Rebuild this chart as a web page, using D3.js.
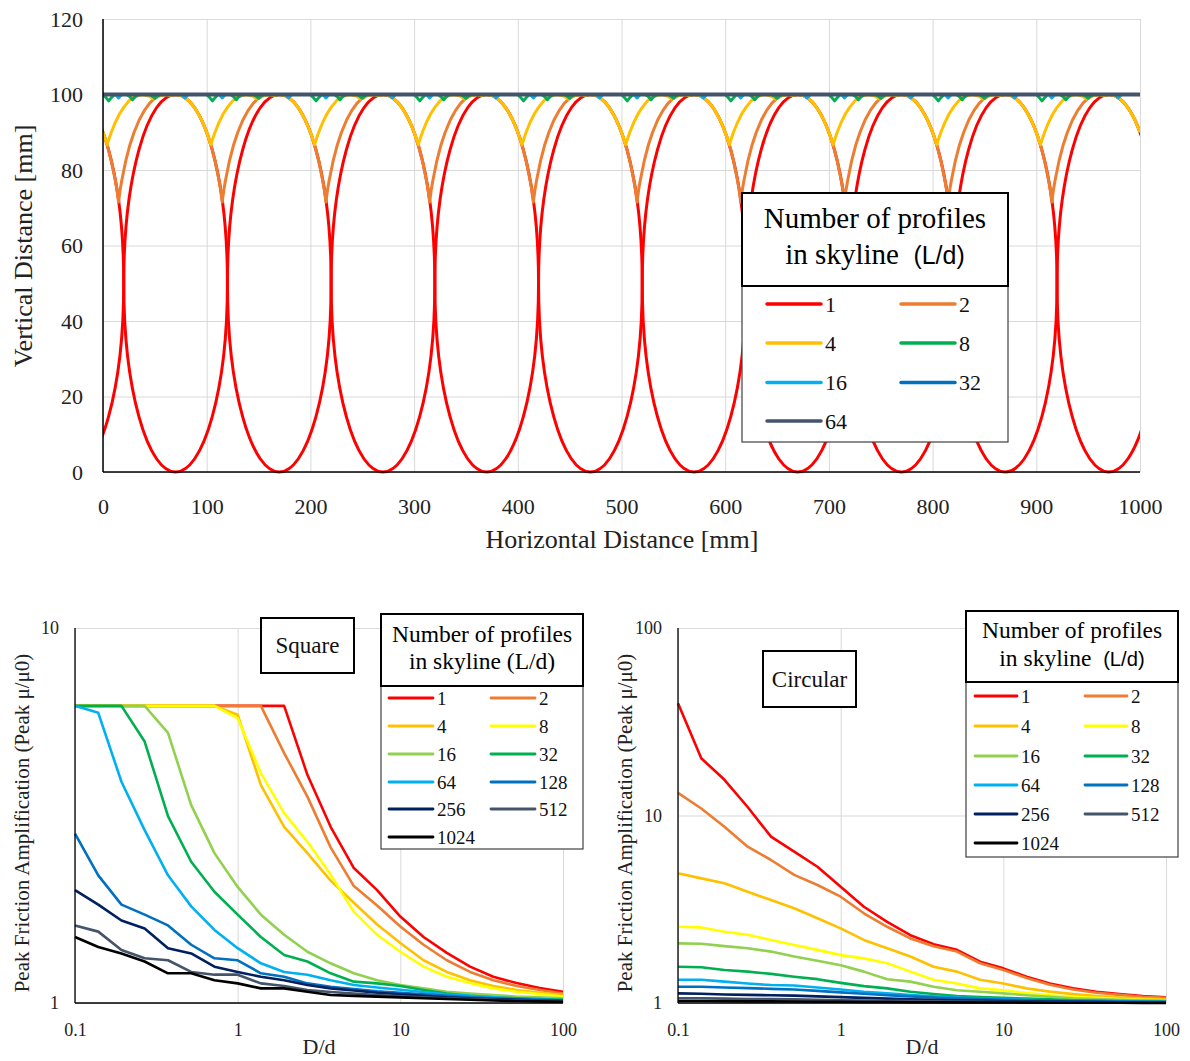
<!DOCTYPE html>
<html>
<head>
<meta charset="utf-8">
<script src="https://cdn.jsdelivr.net/npm/d3@7"></script>
<style>
  body { margin: 0; background: #fff; }
  svg { font-family: "Liberation Serif", "Times New Roman", serif; }
</style>
</head>
<body>
<svg id="fig" width="1190" height="1061"></svg>
<script>
// ---------- top chart: skyline profiles ----------
var topLabels = ["1", "2", "4", "8", "16", "32", "64"];
var topColors = ["#FF0000", "#ED7D31", "#FFC000", "#00B050", "#00B0F0", "#0070C0", "#44546A"];
var topXTicks = [0, 100, 200, 300, 400, 500, 600, 700, 800, 900, 1000];
var topYTicks = [0, 20, 40, 60, 80, 100, 120];

// single profile (L/d = 1): circles of 100 mm, centres
var profileDiameter = 100;
var redCenters = [-30, 70, 170, 270, 370, 470, 570, 670, 770, 870, 970];

// one 100 mm period of each skyline, [x within period, y]
var periodStarts = [0, 100, 200, 300, 400, 500, 600, 700, 800, 900];
var orangeProfile = [[0, 90], [4, 86.7], [8, 82.5], [12, 77.1], [13.5, 74.7], [15, 71.5], [16.5, 74.7], [18, 77.1],
  [22, 82.5], [26, 86.7], [30, 90], [35, 93.3], [40, 95.8], [45, 97.7], [50, 99], [55, 99.75], [60, 100],
  [65, 99.75], [70, 100], [75, 99.75], [80, 99], [85, 97.7], [90, 95.8], [95, 93.3]];
var yellowProfile = [[0, 90], [2, 88.4], [4, 86.7], [6, 88.4], [8, 90], [12, 92.7], [16, 94.9], [20, 96.6],
  [25, 98.3], [30, 99.4], [38, 100], [44, 99.6], [49, 98.8], [54, 99.6], [60, 100], [65, 99.75], [70, 100],
  [75, 99.75], [80, 99], [85, 97.7], [90, 95.8], [95, 93.3]];
var greenProfile = [[0, 100], [2.5, 99.3], [5.5, 98.3], [8.5, 99.3], [11, 100], [23, 100], [26, 99.4], [28.5, 98.6],
  [31, 99.4], [34, 100], [45, 100], [48, 99.5], [50, 99], [52, 99.5], [55, 100]];
var lightBlueProfile = [[0, 100], [12, 100], [15, 99.1], [18, 100], [76, 100], [79, 99.1], [82, 100]];
var blueProfile = [[0, 100]];
var grayProfile = [[0, 100]];
var topEnd = [[1000, 90], [1000, 90], [1000, 100], [1000, 100], [1000, 100], [1000, 100]];

// ---------- bottom charts: peak friction amplification ----------
var dd = [0.1, 0.139, 0.193, 0.268, 0.373, 0.518, 0.72, 1, 1.389, 1.931, 2.683, 3.728, 5.179, 7.197,
  10, 13.89, 19.31, 26.83, 37.28, 51.79, 71.97, 100];
var seriesLabels = ["1", "2", "4", "8", "16", "32", "64", "128", "256", "512", "1024"];
var seriesColors = ["#FF0000", "#ED7D31", "#FFC000", "#FFFF00", "#92D050", "#00B050", "#00B0F0",
  "#0070C0", "#002060", "#44546A", "#000000"];
var logXTicks = [0.1, 1, 10, 100];

var square1 = [6.2, 6.2, 6.2, 6.2, 6.2, 6.2, 6.2, 6.2, 6.2, 6.2, 4.06, 2.95, 2.29, 2.0, 1.70, 1.50, 1.36, 1.25, 1.175, 1.13, 1.096, 1.072];
var square2 = [6.2, 6.2, 6.2, 6.2, 6.2, 6.2, 6.2, 6.2, 6.2, 4.64, 3.55, 2.6, 2.05, 1.82, 1.60, 1.43, 1.30, 1.21, 1.15, 1.11, 1.083, 1.06];
var square4 = [6.2, 6.2, 6.2, 6.2, 6.2, 6.2, 6.2, 5.87, 3.81, 2.95, 2.51, 2.12, 1.85, 1.62, 1.445, 1.30, 1.21, 1.15, 1.11, 1.083, 1.065, 1.05];
var square8 = [6.2, 6.2, 6.2, 6.2, 6.2, 6.2, 6.2, 5.75, 4.1, 3.21, 2.69, 2.2, 1.75, 1.52, 1.37, 1.25, 1.175, 1.13, 1.094, 1.072, 1.057, 1.04];
var square16 = [6.2, 6.2, 6.2, 6.2, 5.25, 3.37, 2.51, 2.04, 1.72, 1.52, 1.37, 1.276, 1.2, 1.15, 1.117, 1.094, 1.072, 1.06, 1.05, 1.04, 1.035, 1.03];
var square32 = [6.2, 6.2, 6.2, 4.98, 3.15, 2.38, 1.98, 1.72, 1.50, 1.343, 1.29, 1.20, 1.14, 1.128, 1.11, 1.083, 1.06, 1.045, 1.035, 1.03, 1.025, 1.02];
var square64 = [6.2, 5.94, 3.89, 2.89, 2.19, 1.81, 1.566, 1.40, 1.276, 1.21, 1.19, 1.15, 1.117, 1.10, 1.085, 1.07, 1.055, 1.045, 1.035, 1.028, 1.022, 1.018];
var square128 = [2.83, 2.19, 1.83, 1.72, 1.61, 1.43, 1.316, 1.30, 1.20, 1.175, 1.128, 1.105, 1.09, 1.075, 1.065, 1.055, 1.045, 1.035, 1.03, 1.025, 1.02, 1.015];
var square256 = [2.0, 1.83, 1.66, 1.58, 1.40, 1.356, 1.25, 1.21, 1.175, 1.15, 1.117, 1.094, 1.08, 1.065, 1.055, 1.045, 1.035, 1.03, 1.025, 1.02, 1.015, 1.012];
var square512 = [1.61, 1.55, 1.385, 1.316, 1.30, 1.21, 1.19, 1.19, 1.128, 1.11, 1.083, 1.07, 1.06, 1.05, 1.042, 1.035, 1.03, 1.025, 1.02, 1.016, 1.013, 1.01];
var square1024 = [1.50, 1.41, 1.356, 1.29, 1.20, 1.20, 1.15, 1.128, 1.094, 1.094, 1.072, 1.05, 1.045, 1.04, 1.035, 1.03, 1.025, 1.02, 1.015, 1.012, 1.01, 1.008];

var circ1 = [39.7, 20.2, 15.5, 11.1, 7.71, 6.41, 5.33, 4.17, 3.26, 2.71, 2.30, 2.06, 1.92, 1.66, 1.53, 1.38, 1.27, 1.197, 1.149, 1.117, 1.09, 1.072];
var circ2 = [13.2, 10.9, 8.72, 6.82, 5.79, 4.82, 4.26, 3.69, 3.01, 2.55, 2.21, 2.01, 1.88, 1.63, 1.50, 1.36, 1.25, 1.18, 1.135, 1.105, 1.08, 1.065];
var circ4 = [4.92, 4.62, 4.35, 3.92, 3.54, 3.20, 2.83, 2.50, 2.17, 1.96, 1.77, 1.56, 1.47, 1.33, 1.27, 1.197, 1.15, 1.115, 1.09, 1.07, 1.055, 1.045];
var circ8 = [2.55, 2.53, 2.40, 2.31, 2.17, 2.04, 1.92, 1.80, 1.73, 1.63, 1.47, 1.33, 1.27, 1.197, 1.17, 1.13, 1.10, 1.08, 1.065, 1.05, 1.04, 1.035];
var circ16 = [2.08, 2.07, 2.01, 1.96, 1.88, 1.77, 1.68, 1.59, 1.47, 1.34, 1.30, 1.22, 1.17, 1.149, 1.126, 1.10, 1.08, 1.06, 1.05, 1.04, 1.035, 1.03];
var circ32 = [1.56, 1.55, 1.50, 1.47, 1.43, 1.38, 1.34, 1.28, 1.23, 1.197, 1.149, 1.117, 1.09, 1.075, 1.065, 1.055, 1.045, 1.035, 1.03, 1.025, 1.02, 1.018];
var circ64 = [1.33, 1.33, 1.30, 1.27, 1.247, 1.24, 1.21, 1.18, 1.149, 1.126, 1.103, 1.085, 1.07, 1.06, 1.05, 1.04, 1.035, 1.03, 1.025, 1.02, 1.017, 1.015];
var circ128 = [1.22, 1.22, 1.21, 1.20, 1.19, 1.18, 1.16, 1.14, 1.12, 1.10, 1.085, 1.07, 1.06, 1.05, 1.04, 1.035, 1.03, 1.025, 1.02, 1.017, 1.014, 1.012];
var circ256 = [1.126, 1.12, 1.11, 1.105, 1.10, 1.095, 1.085, 1.075, 1.065, 1.055, 1.045, 1.04, 1.035, 1.03, 1.025, 1.02, 1.017, 1.014, 1.012, 1.01, 1.008, 1.007];
var circ512 = [1.06, 1.06, 1.055, 1.05, 1.05, 1.045, 1.04, 1.035, 1.03, 1.027, 1.024, 1.02, 1.018, 1.015, 1.013, 1.011, 1.009, 1.008, 1.007, 1.006, 1.005, 1.005];
var circ1024 = [1.025, 1.025, 1.022, 1.02, 1.02, 1.018, 1.016, 1.015, 1.013, 1.012, 1.01, 1.009, 1.008, 1.007, 1.006, 1.005, 1.004, 1.004, 1.003, 1.003, 1.002, 1.002];

var squareSeries = [square1, square2, square4, square8, square16, square32, square64, square128, square256, square512, square1024];
var circSeries = [circ1, circ2, circ4, circ8, circ16, circ32, circ64, circ128, circ256, circ512, circ1024];

var svg = d3.select("#fig");
var gridColor = "#d9d9d9";

// ---------- helpers ----------
function tile(profile) {
  var pts = [];
  periodStarts.forEach(function(s) {
    profile.forEach(function(p) { pts.push([s + p[0], p[1]]); });
  });
  return pts;
}

// legend: a boxed two-line title over a box of line samples in two columns
function legend(g, o, labels, colors) {
  g.append("rect").attr("x", o.x).attr("y", o.titleBottom).attr("width", o.w).attr("height", o.bottom - o.titleBottom)
    .attr("fill", "#fff").attr("stroke", "#404040").attr("stroke-width", 1.2);
  g.append("rect").attr("x", o.x).attr("y", o.y).attr("width", o.w).attr("height", o.titleBottom - o.y)
    .attr("fill", "#fff").attr("stroke", "#000").attr("stroke-width", 2);
  var cx = o.x + o.w / 2;
  g.append("text").attr("x", cx).attr("y", o.t1).attr("text-anchor", "middle")
    .attr("font-size", o.titleSize).text("Number of profiles");
  var t2 = g.append("text").attr("x", cx).attr("y", o.t2).attr("text-anchor", "middle").attr("font-size", o.titleSize);
  t2.append("tspan").text(o.sansLd ? "in skyline\u00a0\u00a0" : "in skyline ");
  t2.append("tspan").attr("font-family", o.sansLd ? "'Liberation Sans', Arial, sans-serif" : null)
    .attr("font-size", o.sansLd ? o.titleSize * 0.86 : o.titleSize).text("(L/d)");
  labels.forEach(function(lab, i) {
    var col = i % 2, row = Math.floor(i / 2);
    var lx = o.cols[col], ly = o.rows[row];
    g.append("line").attr("x1", lx).attr("x2", lx + o.lineLen).attr("y1", ly).attr("y2", ly)
      .attr("stroke", colors[i]).attr("stroke-width", o.lw).attr("stroke-linecap", "round");
    g.append("text").attr("x", lx + o.lineLen + 4).attr("y", ly).attr("dominant-baseline", "central")
      .attr("font-size", o.labelSize).attr("fill", "#111").text(lab);
  });
}

// ---------- top chart ----------
var tx = d3.scaleLinear().domain([0, 1000]).range([103, 1140]);
var ty = d3.scaleLinear().domain([0, 120]).range([472, 19]);
var gTop = svg.append("g");

gTop.append("g").attr("transform", "translate(0," + ty(0) + ")")
  .call(d3.axisBottom(tx).tickValues(topXTicks).tickSize(-(ty(0) - ty(120))).tickFormat(""))
  .call(function(g) { g.select(".domain").remove(); g.selectAll("line").attr("stroke", gridColor); });
gTop.append("g").attr("transform", "translate(" + tx(0) + ",0)")
  .call(d3.axisLeft(ty).tickValues(topYTicks).tickSize(-(tx(1000) - tx(0))).tickFormat(""))
  .call(function(g) { g.select(".domain").remove(); g.selectAll("line").attr("stroke", gridColor); });

gTop.append("g").attr("transform", "translate(0," + ty(0) + ")")
  .call(d3.axisBottom(tx).tickValues(topXTicks).tickSize(0).tickPadding(26).tickFormat(d3.format("d")))
  .call(function(g) {
    g.select(".domain").remove();
    g.selectAll("text").attr("font-size", 22).attr("font-family", "Liberation Serif").attr("fill", "#222");
  });
gTop.append("g").attr("transform", "translate(" + tx(0) + ",0)")
  .call(d3.axisLeft(ty).tickValues(topYTicks).tickSize(0).tickPadding(20).tickFormat(d3.format("d")))
  .call(function(g) {
    g.select(".domain").remove();
    g.selectAll("text").attr("font-size", 22).attr("font-family", "Liberation Serif").attr("fill", "#222");
  });

svg.append("clipPath").attr("id", "clipTop").append("rect")
  .attr("x", tx(0)).attr("y", ty(120)).attr("width", tx(1000) - tx(0)).attr("height", ty(0) - ty(120) + 2);
var plotTop = gTop.append("g").attr("clip-path", "url(#clipTop)");

plotTop.selectAll("ellipse").data(redCenters).join("ellipse")
  .attr("cx", function(d) { return tx(d); })
  .attr("cy", ty(profileDiameter / 2))
  .attr("rx", tx(profileDiameter / 2) - tx(0))
  .attr("ry", ty(0) - ty(profileDiameter / 2))
  .attr("fill", "none").attr("stroke", topColors[0]).attr("stroke-width", 3);

var topLine = d3.line().x(function(d) { return tx(d[0]); }).y(function(d) { return ty(d[1]); });
var skylines = [orangeProfile, yellowProfile, greenProfile, lightBlueProfile, blueProfile, grayProfile];
skylines.forEach(function(p, i) {
  var pts = tile(p).concat([topEnd[i]]);
  plotTop.append("path").attr("d", topLine(pts)).attr("fill", "none")
    .attr("stroke", topColors[i + 1]).attr("stroke-width", i === 5 ? 3.8 : 3).attr("stroke-linejoin", "round");
});

gTop.append("line").attr("x1", tx(0)).attr("x2", tx(0)).attr("y1", ty(120)).attr("y2", ty(0))
  .attr("stroke", "#000").attr("stroke-width", 1.5);
gTop.append("line").attr("x1", tx(0)).attr("x2", tx(1000)).attr("y1", ty(0)).attr("y2", ty(0))
  .attr("stroke", "#000").attr("stroke-width", 1.5);

gTop.append("text").attr("transform", "translate(32,246) rotate(-90)").attr("text-anchor", "middle")
  .attr("font-size", 26).attr("fill", "#222").text("Vertical Distance [mm]");
gTop.append("text").attr("x", 622).attr("y", 548).attr("text-anchor", "middle")
  .attr("font-size", 26).attr("fill", "#222").text("Horizontal Distance [mm]");

legend(gTop, {
  x: 742, y: 193, w: 266, titleBottom: 286, bottom: 442, t1: 228, t2: 264, titleSize: 29, sansLd: true,
  cols: [767, 901], rows: [304, 343, 382.5, 421], lineLen: 54, lw: 3.5, labelSize: 22
}, topLabels, topColors);

// ---------- bottom log charts ----------
function logChart(o) {
  var g = svg.append("g");
  var x = d3.scaleLog().domain([0.1, 100]).range([o.x0, o.x1]);
  var y = d3.scaleLog().domain(o.yDomain).range([1003, 628]);

  g.append("g").attr("transform", "translate(0,1003)")
    .call(d3.axisBottom(x).tickValues(logXTicks).tickSize(-(1003 - 628)).tickFormat(""))
    .call(function(a) { a.select(".domain").remove(); a.selectAll("line").attr("stroke", gridColor); });
  g.append("g").attr("transform", "translate(" + o.x0 + ",0)")
    .call(d3.axisLeft(y).tickValues(o.yTicks).tickSize(-(o.x1 - o.x0)).tickFormat(""))
    .call(function(a) { a.select(".domain").remove(); a.selectAll("line").attr("stroke", gridColor); });

  g.append("g").attr("transform", "translate(0,1003)")
    .call(d3.axisBottom(x).tickValues(logXTicks).tickSize(0).tickPadding(20).tickFormat(function(d) { return String(d); }))
    .call(function(a) {
      a.select(".domain").remove();
      a.selectAll("text").attr("font-size", 18).attr("font-family", "Liberation Serif").attr("fill", "#222");
    });
  g.append("g").attr("transform", "translate(" + o.x0 + ",0)")
    .call(d3.axisLeft(y).tickValues(o.yTicks).tickSize(0).tickPadding(16).tickFormat(d3.format("d")))
    .call(function(a) {
      a.select(".domain").remove();
      a.selectAll("text").attr("font-size", 18).attr("font-family", "Liberation Serif").attr("fill", "#222");
    });

  var line = d3.line().x(function(d, i) { return x(dd[i]); }).y(function(d) { return y(d); });
  o.series.forEach(function(s, i) {
    g.append("path").attr("d", line(s)).attr("fill", "none").attr("stroke", seriesColors[i])
      .attr("stroke-width", 2.6).attr("stroke-linejoin", "round");
  });

  g.append("line").attr("x1", o.x0).attr("x2", o.x0).attr("y1", 628).attr("y2", 1003).attr("stroke", "#000").attr("stroke-width", 1.3);
  g.append("line").attr("x1", o.x0).attr("x2", o.x1).attr("y1", 1003).attr("y2", 1003).attr("stroke", "#000").attr("stroke-width", 1.3);

  g.append("text").attr("transform", "translate(" + o.yTitleX + ",823) rotate(-90)").attr("text-anchor", "middle")
    .attr("font-size", 21).attr("fill", "#222").text("Peak Friction Amplification (Peak \u03bc/\u03bc0)");
  g.append("text").attr("x", (o.x0 + o.x1) / 2).attr("y", 1054).attr("text-anchor", "middle")
    .attr("font-size", 22).attr("fill", "#222").text("D/d");

  var b = o.box;
  g.append("rect").attr("x", b.x).attr("y", b.y).attr("width", b.w).attr("height", b.h)
    .attr("fill", "#fff").attr("stroke", "#000").attr("stroke-width", 2);
  g.append("text").attr("x", b.x + b.w / 2).attr("y", b.y + b.h / 2).attr("dominant-baseline", "central")
    .attr("text-anchor", "middle").attr("font-size", 23).attr("fill", "#111").text(b.text);

  legend(g, o.legend, seriesLabels, seriesColors);
}

logChart({
  x0: 75, x1: 563, yDomain: [1, 10], yTicks: [1, 10], series: squareSeries, yTitleX: 29,
  box: { x: 261, y: 618, w: 93, h: 55, text: "Square" },
  legend: { x: 381, y: 614, w: 202, titleBottom: 686, bottom: 849, t1: 642, t2: 669, titleSize: 23.5, sansLd: false,
    cols: [389, 491], rows: [698, 726, 754, 782, 809, 837], lineLen: 44, lw: 2.8, labelSize: 19 }
});
logChart({
  x0: 678, x1: 1166, yDomain: [1, 100], yTicks: [1, 10, 100], series: circSeries, yTitleX: 632,
  box: { x: 763, y: 651, w: 93, h: 56, text: "Circular" },
  legend: { x: 966, y: 611, w: 212, titleBottom: 682, bottom: 857, t1: 638, t2: 666, titleSize: 23.5, sansLd: true,
    cols: [975, 1085], rows: [696, 726, 756, 785, 814, 843], lineLen: 42, lw: 2.8, labelSize: 19 }
});
</script>
</body>
</html>
